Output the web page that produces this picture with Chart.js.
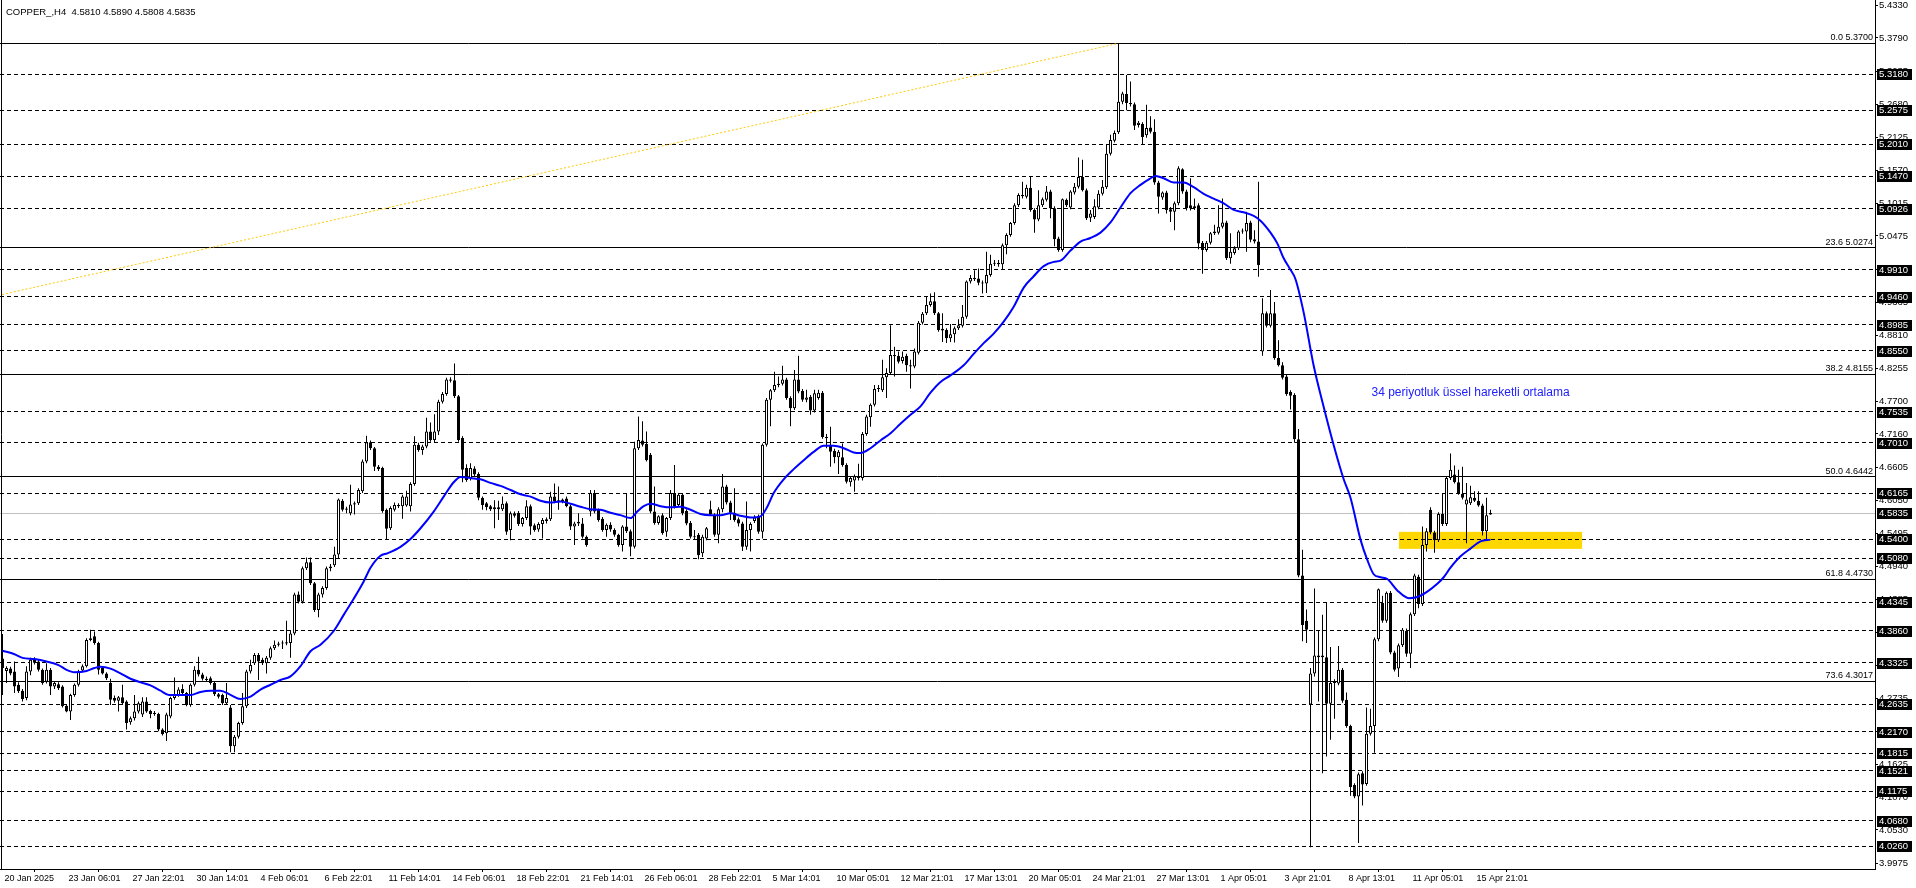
<!DOCTYPE html>
<html>
<head>
<meta charset="utf-8">
<title>COPPER_,H4</title>
<script src="https://cdn.jsdelivr.net/npm/chart.js@4.4.1/dist/chart.umd.min.js"></script>
<style>
  html, body { margin: 0; padding: 0; background: #fff; }
  #wrap { width: 1916px; height: 888px; }
</style>
</head>
<body>
<div id="wrap"><canvas id="grafico" width="1916" height="888"></canvas></div>
<script>
// H4 bars (bar 0 = 20 Jan 2025)
const opens = [
  4.340,4.319,4.323,4.318,4.296,4.286,4.274,4.318,4.338,4.335,
  4.321,4.301,4.321,4.293,4.297,4.293,4.261,4.251,4.279,4.296,
  4.320,4.327,4.371,4.377,4.366,4.324,4.315,4.299,4.274,4.269,
  4.275,4.268,4.233,4.240,4.251,4.246,4.268,4.252,4.247,4.247,
  4.221,4.215,4.243,4.274,4.279,4.289,4.282,4.262,4.296,4.321,
  4.313,4.306,4.307,4.299,4.280,4.279,4.265,4.258,4.193,4.209,
  4.232,4.260,4.318,4.332,4.346,4.338,4.332,4.341,4.357,4.363,
  4.365,4.365,4.366,4.382,4.447,4.435,4.491,4.501,4.466,4.421,
  4.447,4.458,4.491,4.496,4.514,4.604,4.589,4.583,4.598,4.600,
  4.620,4.670,4.702,4.692,4.661,4.659,4.589,4.558,4.589,4.597,
  4.595,4.596,4.595,4.632,4.698,4.689,4.695,4.720,4.706,4.720,
  4.770,4.783,4.807,4.806,4.779,4.709,4.659,4.642,4.658,4.649,
  4.609,4.600,4.595,4.590,4.593,4.590,4.600,4.555,4.583,4.584,
  4.565,4.575,4.595,4.563,4.556,4.565,4.570,4.573,4.611,4.603,
  4.603,4.608,4.595,4.561,4.566,4.566,4.544,4.586,4.617,4.589,
  4.574,4.555,4.564,4.555,4.547,4.530,4.561,4.553,4.527,4.692,
  4.705,4.699,4.681,4.586,4.567,4.580,4.552,4.575,4.617,4.597,
  4.614,4.587,4.567,4.544,4.547,4.516,4.541,4.590,4.580,4.547,
  4.590,4.628,4.601,4.584,4.573,4.566,4.527,4.555,4.570,4.578,
  4.552,4.698,4.773,4.789,4.798,4.800,4.807,4.776,4.759,4.807,
  4.788,4.773,4.778,4.755,4.776,4.785,4.711,4.698,4.688,4.677,
  4.677,4.664,4.635,4.638,4.642,4.642,4.716,4.744,4.765,4.791,
  4.789,4.811,4.818,4.848,4.847,4.838,4.847,4.831,4.829,4.852,
  4.902,4.918,4.932,4.938,4.918,4.892,4.890,4.876,4.883,4.893,
  4.897,4.912,4.971,4.977,4.976,4.969,4.968,4.982,5.001,5.002,
  5.000,5.032,5.049,5.069,5.099,5.116,5.113,5.128,5.091,5.075,
  5.099,5.108,5.122,5.094,5.043,5.024,5.108,5.095,5.120,5.130,
  5.146,5.124,5.078,5.079,5.095,5.118,5.129,5.185,5.207,5.221,
  5.272,5.285,5.270,5.268,5.233,5.235,5.216,5.229,5.222,5.137,
  5.112,5.120,5.092,5.088,5.102,5.159,5.122,5.099,5.094,5.099,
  5.036,5.024,5.036,5.052,5.053,5.063,5.070,5.010,5.019,5.027,
  5.055,5.055,5.070,5.042,5.038,4.854,4.918,4.897,4.918,4.843,
  4.831,4.812,4.786,4.781,4.707,4.479,4.403,4.263,4.315,4.345,
  4.342,4.342,4.264,4.299,4.298,4.321,4.271,4.227,4.128,4.109,
  4.148,4.130,4.214,4.227,4.372,4.433,4.403,4.450,4.350,4.323,
  4.362,4.386,4.348,4.414,4.477,4.431,4.530,4.589,4.551,4.538,
  4.582,4.565,4.642,4.648,4.635,4.616,4.598,4.600,4.609,4.604,
  4.596,4.553,4.5810
];
const highs = [
  4.381,4.327,4.326,4.335,4.300,4.289,4.327,4.341,4.342,4.338,
  4.323,4.332,4.324,4.302,4.300,4.295,4.263,4.281,4.298,4.321,
  4.330,4.374,4.388,4.385,4.368,4.326,4.317,4.306,4.278,4.277,
  4.296,4.270,4.243,4.279,4.268,4.275,4.275,4.254,4.252,4.249,
  4.223,4.249,4.276,4.308,4.292,4.297,4.284,4.298,4.327,4.343,
  4.316,4.310,4.310,4.301,4.282,4.281,4.299,4.262,4.212,4.234,
  4.282,4.321,4.338,4.349,4.349,4.341,4.344,4.360,4.370,4.368,
  4.370,4.403,4.386,4.450,4.452,4.494,4.509,4.509,4.468,4.450,
  4.461,4.494,4.498,4.527,4.608,4.607,4.594,4.631,4.603,4.625,
  4.673,4.713,4.705,4.694,4.664,4.661,4.591,4.595,4.601,4.600,
  4.614,4.621,4.635,4.712,4.701,4.698,4.743,4.735,4.749,4.773,
  4.786,4.810,4.811,4.834,4.781,4.712,4.665,4.667,4.662,4.652,
  4.611,4.602,4.597,4.605,4.604,4.611,4.603,4.586,4.586,4.587,
  4.577,4.605,4.598,4.566,4.568,4.575,4.576,4.619,4.633,4.628,
  4.608,4.611,4.597,4.569,4.583,4.575,4.546,4.622,4.622,4.591,
  4.577,4.566,4.568,4.558,4.549,4.563,4.617,4.556,4.703,4.745,
  4.737,4.720,4.684,4.628,4.580,4.583,4.577,4.622,4.664,4.617,
  4.617,4.590,4.570,4.555,4.550,4.547,4.560,4.604,4.583,4.593,
  4.649,4.631,4.604,4.625,4.576,4.569,4.603,4.568,4.580,4.581,
  4.700,4.776,4.791,4.820,4.812,4.830,4.810,4.779,4.823,4.847,
  4.791,4.790,4.781,4.790,4.790,4.788,4.716,4.728,4.691,4.689,
  4.700,4.667,4.645,4.648,4.666,4.719,4.748,4.767,4.798,4.798,
  4.840,4.826,4.898,4.862,4.854,4.854,4.850,4.840,4.859,4.905,
  4.920,4.946,4.951,4.953,4.920,4.918,4.893,4.900,4.896,4.908,
  4.932,4.973,4.982,4.990,4.993,4.973,5.021,5.016,5.007,5.007,
  5.035,5.052,5.071,5.102,5.119,5.138,5.133,5.146,5.094,5.124,
  5.112,5.131,5.125,5.097,5.046,5.110,5.110,5.124,5.136,5.179,
  5.175,5.127,5.091,5.109,5.124,5.141,5.200,5.217,5.224,5.370,
  5.289,5.317,5.306,5.271,5.240,5.238,5.267,5.248,5.243,5.140,
  5.122,5.123,5.096,5.105,5.164,5.161,5.125,5.144,5.110,5.102,
  5.039,5.039,5.054,5.066,5.099,5.110,5.073,5.052,5.030,5.057,
  5.060,5.088,5.073,5.057,5.138,4.943,4.921,4.957,4.937,4.873,
  4.836,4.816,4.789,4.784,4.724,4.522,4.422,4.324,4.457,4.386,
  4.413,4.433,4.359,4.305,4.361,4.324,4.283,4.229,4.131,4.149,
  4.151,4.258,4.256,4.375,4.457,4.445,4.452,4.453,4.353,4.365,
  4.391,4.390,4.417,4.482,4.480,4.561,4.558,4.593,4.554,4.585,
  4.616,4.645,4.683,4.663,4.656,4.661,4.634,4.629,4.620,4.620,
  4.599,4.609,4.5890
];
const lows = [
  4.279,4.299,4.312,4.282,4.282,4.268,4.270,4.312,4.330,4.318,
  4.296,4.298,4.279,4.289,4.287,4.258,4.250,4.237,4.276,4.293,
  4.317,4.325,4.369,4.363,4.313,4.313,4.304,4.262,4.266,4.251,
  4.262,4.221,4.229,4.236,4.248,4.242,4.249,4.240,4.244,4.218,
  4.211,4.202,4.240,4.271,4.276,4.279,4.260,4.259,4.293,4.310,
  4.303,4.301,4.296,4.277,4.273,4.262,4.262,4.183,4.183,4.206,
  4.229,4.257,4.315,4.329,4.304,4.329,4.315,4.338,4.354,4.360,
  4.356,4.362,4.341,4.379,4.432,4.432,4.488,4.463,4.418,4.409,
  4.442,4.455,4.486,4.493,4.508,4.586,4.583,4.580,4.581,4.597,
  4.617,4.667,4.689,4.654,4.654,4.584,4.540,4.555,4.586,4.592,
  4.574,4.594,4.586,4.629,4.686,4.681,4.692,4.703,4.702,4.714,
  4.767,4.780,4.802,4.776,4.703,4.635,4.636,4.638,4.645,4.605,
  4.589,4.588,4.587,4.558,4.572,4.587,4.547,4.538,4.576,4.562,
  4.561,4.572,4.547,4.552,4.552,4.541,4.566,4.570,4.600,4.589,
  4.600,4.593,4.555,4.530,4.562,4.541,4.527,4.578,4.583,4.569,
  4.552,4.544,4.552,4.544,4.527,4.519,4.550,4.511,4.524,4.689,
  4.695,4.670,4.583,4.564,4.564,4.547,4.544,4.572,4.591,4.594,
  4.580,4.563,4.541,4.540,4.506,4.510,4.538,4.580,4.544,4.533,
  4.585,4.598,4.572,4.569,4.561,4.520,4.522,4.519,4.567,4.549,
  4.541,4.695,4.729,4.786,4.794,4.797,4.773,4.729,4.756,4.784,
  4.770,4.769,4.748,4.752,4.773,4.708,4.692,4.661,4.667,4.649,
  4.661,4.633,4.628,4.619,4.638,4.638,4.713,4.728,4.762,4.786,
  4.786,4.776,4.815,4.812,4.834,4.834,4.820,4.792,4.826,4.849,
  4.899,4.915,4.929,4.915,4.887,4.870,4.868,4.870,4.869,4.890,
  4.894,4.909,4.968,4.972,4.965,4.951,4.952,4.979,4.997,4.996,
  4.991,5.017,5.046,5.066,5.096,5.110,5.110,5.088,5.053,5.072,
  5.096,5.105,5.077,5.030,5.021,5.021,5.096,5.092,5.117,5.127,
  5.122,5.074,5.071,5.076,5.092,5.115,5.126,5.182,5.204,5.218,
  5.268,5.258,5.264,5.225,5.229,5.200,5.212,5.219,5.133,5.085,
  5.108,5.085,5.071,5.057,5.099,5.118,5.090,5.090,5.091,5.025,
  4.984,5.021,5.033,5.049,5.050,5.060,5.007,5.001,5.016,5.024,
  5.051,5.021,5.037,5.035,4.979,4.847,4.894,4.894,4.840,4.829,
  4.807,4.780,4.757,4.701,4.476,4.369,4.366,4.024,4.310,4.268,
  4.148,4.176,4.204,4.239,4.295,4.266,4.224,4.110,4.106,4.031,
  4.094,4.127,4.211,4.182,4.369,4.400,4.400,4.347,4.318,4.309,
  4.359,4.343,4.324,4.411,4.424,4.428,4.519,4.548,4.517,4.535,
  4.562,4.562,4.639,4.633,4.614,4.606,4.533,4.597,4.602,4.594,
  4.546,4.539,4.5808
];
const closes = [
  4.324,4.324,4.315,4.293,4.285,4.272,4.318,4.338,4.333,4.321,
  4.299,4.321,4.293,4.299,4.290,4.260,4.251,4.279,4.296,4.318,
  4.327,4.371,4.374,4.366,4.321,4.315,4.307,4.271,4.269,4.275,
  4.265,4.232,4.240,4.251,4.265,4.268,4.251,4.247,4.249,4.221,
  4.213,4.246,4.274,4.279,4.288,4.282,4.262,4.296,4.321,4.313,
  4.306,4.304,4.299,4.280,4.276,4.265,4.274,4.193,4.209,4.232,
  4.260,4.318,4.329,4.346,4.335,4.332,4.341,4.357,4.363,4.365,
  4.366,4.367,4.382,4.447,4.435,4.491,4.501,4.466,4.421,4.447,
  4.458,4.491,4.494,4.514,4.606,4.589,4.591,4.598,4.600,4.622,
  4.670,4.702,4.692,4.661,4.657,4.587,4.557,4.592,4.597,4.595,
  4.611,4.611,4.632,4.698,4.689,4.695,4.720,4.706,4.720,4.770,
  4.783,4.807,4.805,4.779,4.706,4.656,4.639,4.659,4.648,4.609,
  4.597,4.593,4.590,4.593,4.590,4.599,4.552,4.583,4.579,4.565,
  4.575,4.595,4.561,4.555,4.565,4.572,4.573,4.611,4.603,4.605,
  4.606,4.595,4.561,4.566,4.569,4.544,4.530,4.617,4.586,4.572,
  4.555,4.564,4.556,4.547,4.530,4.561,4.553,4.527,4.692,4.706,
  4.698,4.672,4.586,4.567,4.578,4.550,4.575,4.617,4.594,4.614,
  4.583,4.566,4.544,4.543,4.513,4.544,4.558,4.581,4.547,4.590,
  4.628,4.601,4.584,4.572,4.566,4.527,4.555,4.565,4.576,4.552,
  4.698,4.773,4.789,4.798,4.800,4.807,4.776,4.759,4.807,4.787,
  4.773,4.777,4.755,4.784,4.785,4.711,4.709,4.686,4.677,4.686,
  4.664,4.636,4.642,4.645,4.644,4.716,4.745,4.765,4.791,4.793,
  4.811,4.818,4.848,4.846,4.837,4.845,4.831,4.829,4.854,4.902,
  4.917,4.932,4.938,4.918,4.890,4.889,4.876,4.883,4.893,4.898,
  4.912,4.971,4.977,4.975,4.969,4.968,4.982,5.001,5.002,5.000,
  5.032,5.049,5.069,5.099,5.116,5.114,5.128,5.091,5.075,5.099,
  5.109,5.122,5.094,5.042,5.024,5.109,5.099,5.122,5.130,5.146,
  5.124,5.077,5.085,5.097,5.118,5.130,5.185,5.208,5.220,5.272,
  5.286,5.270,5.268,5.232,5.237,5.213,5.228,5.222,5.137,5.113,
  5.120,5.091,5.088,5.102,5.161,5.122,5.094,5.094,5.097,5.035,
  5.024,5.036,5.052,5.055,5.063,5.070,5.010,5.021,5.027,5.055,
  5.056,5.069,5.041,5.038,4.999,4.918,4.897,4.918,4.843,4.831,
  4.810,4.783,4.780,4.707,4.479,4.396,4.388,4.315,4.345,4.342,
  4.345,4.264,4.299,4.302,4.321,4.269,4.227,4.125,4.109,4.146,
  4.129,4.214,4.227,4.372,4.456,4.403,4.450,4.350,4.321,4.362,
  4.388,4.348,4.414,4.479,4.431,4.530,4.553,4.551,4.538,4.582,
  4.565,4.642,4.656,4.635,4.616,4.609,4.606,4.610,4.604,4.596,
  4.553,4.580,4.5835
];

// 34 period EMA, sampled from the blue line (bar index, price)
const emaBars = [0,3,5,8,11,14,16,18,21,23,24.5,27,29.5,32,34.5,37,39.5,41.6,44.5,47,
  49.5,52,54.5,57,59.5,62,64.5,67,69.5,72,74.5,77,79.5,82.8,85.3,87.8,90.3,92,94.5,96.2,
  99.5,102,104.5,107.8,110.3,112.8,114.5,117,119.5,122,124.5,127,129.5,132,134.5,137,139.5,142,144.5,147,
  149.5,152,154.5,157,158.7,160.3,162,164.5,167,169.5,172,174.5,177,179.5,182,184.5,187,189.5,191.2,192.8,
  195.3,197.8,200.3,202.8,205.3,207.8,210.3,212.8,214.5,217,219.5,222,224.5,227,229.5,232,234.5,237,240.3,242.8,
  245.3,247.8,250.3,252.8,255.3,257.8,260.3,262.8,264.5,267,269.5,272,274.5,277,279.5,282,284.5,287,288.3,290.3,
  292.8,295.3,297.8,300.3,302.8,305.3,307.8,310.3,312.8,314.5,317,318.7,320.3,321.8,323.25,325.3,327.8,330.3,332.8,335.3,
  337,339.5,341.2,342.8,344.5,346.2,348.7,351.6,353.7,356.2,358.7,360.3,362,364.5,367,369.5,372];
const emaValues = [4.353,4.347,4.341,4.339,4.335,4.329,4.321,4.317,4.319,4.324,4.326,4.323,4.315,4.306,4.300,4.295,4.286,4.279,4.279,4.279,
  4.284,4.286,4.286,4.279,4.272,4.276,4.288,4.296,4.304,4.310,4.327,4.352,4.363,4.386,4.413,4.440,4.469,4.492,4.512,4.516,
  4.527,4.540,4.558,4.586,4.611,4.635,4.644,4.642,4.640,4.634,4.629,4.622,4.615,4.611,4.604,4.601,4.603,4.599,4.594,4.590,
  4.589,4.584,4.580,4.575,4.586,4.595,4.599,4.595,4.593,4.594,4.589,4.582,4.580,4.580,4.583,4.579,4.576,4.578,4.594,4.617,
  4.640,4.657,4.672,4.686,4.696,4.696,4.692,4.685,4.684,4.692,4.705,4.717,4.733,4.748,4.762,4.785,4.803,4.814,4.831,4.850,
  4.868,4.884,4.904,4.929,4.961,4.980,4.997,5.004,5.006,5.023,5.038,5.044,5.053,5.070,5.095,5.119,5.133,5.144,5.148,5.144,
  5.137,5.137,5.129,5.118,5.110,5.102,5.091,5.087,5.081,5.073,5.053,5.035,5.010,4.993,4.975,4.919,4.830,4.761,4.697,4.640,
  4.609,4.539,4.505,4.481,4.476,4.473,4.454,4.441,4.443,4.452,4.465,4.476,4.492,4.511,4.524,4.536,4.539];

// time axis labels (every 16 bars)
const tickBars = [0,16,32,48,64,80,96,112,128,144,160,176,192,208,224,240,256,272,288,304,320,336,352,368];
const tickLabels = ['20 Jan 2025','23 Jan 06:01','27 Jan 22:01','30 Jan 14:01','4 Feb 06:01','6 Feb 22:01',
  '11 Feb 14:01','14 Feb 06:01','18 Feb 22:01','21 Feb 14:01','26 Feb 06:01','28 Feb 22:01','5 Mar 14:01',
  '10 Mar 05:01','12 Mar 21:01','17 Mar 13:01','20 Mar 05:01','24 Mar 21:01','27 Mar 13:01','1 Apr 05:01',
  '3 Apr 21:01','8 Apr 13:01','11 Apr 05:01','15 Apr 21:01'];

// price axis ticks
const priceTicks = [5.4330,5.3790,5.3235,5.2680,5.2125,5.1570,5.1015,5.0475,4.9920,4.9365,4.8810,4.8255,
  4.7700,4.7160,4.6605,4.6050,4.5495,4.4940,4.4385,4.3830,4.3275,4.2735,4.2180,4.1625,4.1070,4.0530,3.9975];

// horizontal levels drawn on the chart
const dashLevels = [5.3180,5.2575,5.2010,5.1470,5.0926,4.9910,4.9460,4.8985,4.8550,4.7535,4.7010,4.6165,
  4.5400,4.5080,4.4345,4.3860,4.3325,4.2635,4.2170,4.1815,4.1521,4.1175,4.0680,4.0260];
const fibRatios = ['0.0','23.6','38.2','50.0','61.8','73.6'];
const fibPrices = [5.3700,5.0274,4.8155,4.6442,4.4730,4.3017];
const fibAnchorBars = [-684, 279];
const fibAnchorPrices = [3.9184, 5.3700];
const lastPrice = closes[closes.length - 1];

// support zone and text
const zoneBars = [349.1, 394.9];
const zonePrices = [4.5235, 4.5520];
const noteText = '34 periyotluk üssel hareketli ortalama';
const noteAt = [342.25, 4.7845];

const FONT = '"Liberation Sans", Arial, sans-serif';

const wicks = highs.map((h, i) => ({ x: i, y: [lows[i], h] }));
const bodies = opens.map((o, i) => ({ x: i, y: [o, closes[i]] }));
const bodyColors = opens.map((o, i) => closes[i] >= o ? '#ffffff' : '#000000');
const emaPoints = emaBars.map((b, i) => ({ x: b, y: emaValues[i] }));
const fibLine = fibAnchorBars.map((b, i) => ({ x: b, y: fibAnchorPrices[i] }));

function hline(ctx, a, py) {
  const yy = Math.round(py - 0.5) + 0.5;
  ctx.beginPath();
  ctx.moveTo(a.left, yy);
  ctx.lineTo(a.right, yy);
  ctx.stroke();
}

const decoracao = {
  id: 'decoracao',
  beforeDatasetsDraw(chart) {
    const { ctx, chartArea: a, scales: { x, y } } = chart;
    ctx.save();
    ctx.beginPath();
    ctx.rect(a.left, a.top, a.right - a.left, a.bottom - a.top);
    ctx.clip();

    let x1 = x.getPixelForValue(zoneBars[0]), x2 = x.getPixelForValue(zoneBars[1]);
    let y1 = y.getPixelForValue(zonePrices[1]), y2 = y.getPixelForValue(zonePrices[0]);
    ctx.fillStyle = '#ffd700';
    ctx.fillRect(x1, y1, x2 - x1, y2 - y1);

    ctx.lineWidth = 1;
    ctx.strokeStyle = '#000';
    ctx.setLineDash([4, 3]);
    dashLevels.forEach(v => hline(ctx, a, y.getPixelForValue(v)));
    ctx.setLineDash([]);
    fibPrices.forEach(v => hline(ctx, a, y.getPixelForValue(v)));
    ctx.strokeStyle = '#c0c0c0';
    hline(ctx, a, y.getPixelForValue(lastPrice));

    // left frame
    ctx.strokeStyle = '#000';
    ctx.beginPath();
    ctx.moveTo(a.left + 1.5, a.top);
    ctx.lineTo(a.left + 1.5, a.bottom);
    ctx.stroke();
    ctx.restore();
  },
  afterDraw(chart) {
    const { ctx, chartArea: a, scales: { x, y } } = chart;
    ctx.save();
    // fibo texts
    ctx.font = '9px ' + FONT;
    ctx.fillStyle = '#000';
    ctx.textAlign = 'right';
    ctx.textBaseline = 'bottom';
    fibPrices.forEach((v, i) => {
      ctx.fillText(fibRatios[i] + ' ' + v.toFixed(4), a.right - 2, Math.round(y.getPixelForValue(v)) - 1);
    });

    // symbol line
    ctx.font = '9.5px ' + FONT;
    ctx.textAlign = 'left';
    ctx.textBaseline = 'middle';
    const n = closes.length - 1;
    ctx.fillText('COPPER_,H4  ' + [opens[n], highs[n], lows[n], closes[n]].map(v => v.toFixed(4)).join(' '), 6, 12);

    // note
    ctx.font = '12px ' + FONT;
    ctx.fillStyle = '#2020ff';
    ctx.fillText(noteText, x.getPixelForValue(noteAt[0]), y.getPixelForValue(noteAt[1]));

    // price boxes on the axis
    ctx.font = '9.5px ' + FONT;
    [...dashLevels, lastPrice].forEach(v => {
      const py = Math.round(y.getPixelForValue(v));
      ctx.fillStyle = '#000';
      ctx.fillRect(a.right + 2, py - 5, 35, 11);
      ctx.fillStyle = '#fff';
      ctx.fillText(v.toFixed(4), a.right + 4, py + 0.5);
    });
    ctx.restore();
  }
};

const ctx = document.getElementById('grafico');

new Chart(ctx, {
  type: 'bar',
  data: {
    datasets: [
      { type: 'line', data: emaPoints, borderColor: '#0000ff', borderWidth: 2, pointRadius: 0,
        cubicInterpolationMode: 'monotone', order: 0 },
      { type: 'bar', data: bodies, backgroundColor: bodyColors, borderColor: '#000', borderWidth: 1,
        borderSkipped: false, barThickness: 3, minBarLength: 1, grouped: false, inflateAmount: 0, order: 1 },
      { type: 'bar', data: wicks, backgroundColor: '#000', borderWidth: 0, barThickness: 1,
        grouped: false, inflateAmount: 0, order: 2 },
      { type: 'line', data: fibLine, borderColor: '#ffc800', borderWidth: 1, borderDash: [2, 2],
        pointRadius: 0, order: 3 }
    ]
  },
  options: {
    responsive: false,
    animation: false,
    events: [],
    layout: { padding: 0 },
    plugins: { legend: { display: false }, tooltip: { enabled: false } },
    scales: {
      x: {
        type: 'linear', min: -0.625, max: 468.125, offset: false,
        afterBuildTicks: s => { s.ticks = tickBars.map(v => ({ value: v })); },
        afterFit: s => { s.height = 19; s.paddingLeft = 0; s.paddingRight = 0; },
        ticks: { autoSkip: false, maxRotation: 0, align: 'start', padding: 1, labelOffset: 2, color: '#000',
          font: { family: FONT, size: 9 }, callback: (v, i) => tickLabels[i] },
        grid: { drawOnChartArea: false, drawTicks: true, tickLength: 3, color: '#000' },
        border: { display: true, color: '#000' }
      },
      y: {
        position: 'right', min: 3.9875, max: 5.4425,
        afterBuildTicks: s => { s.ticks = priceTicks.map(v => ({ value: v })); },
        afterFit: s => { s.width = 41; s.paddingTop = 0; s.paddingBottom = 0; },
        ticks: { autoSkip: false, padding: 1, color: '#000', font: { family: FONT, size: 9.5 },
          callback: v => v.toFixed(4) },
        grid: { drawOnChartArea: false, drawTicks: true, tickLength: 3, color: '#000' },
        border: { display: true, color: '#000' }
      }
    }
  },
  plugins: [decoracao]
});
</script>
</body>
</html>
